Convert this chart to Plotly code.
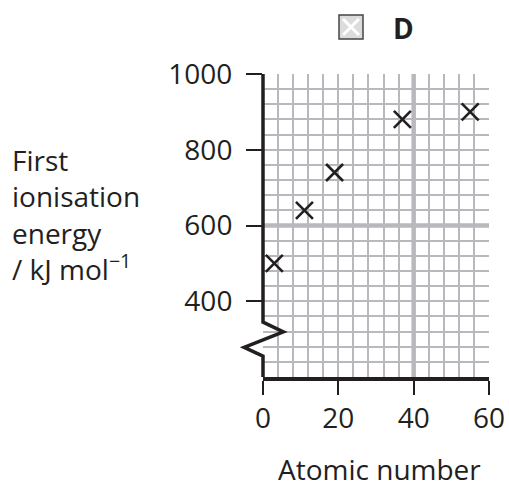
import plotly.graph_objects as go

# ---- data ----
atomic_number = [3, 11, 19, 37, 55]
ionisation_energy = [500, 640, 740, 880, 900]

x_ticks = [0, 20, 40, 60]
y_ticks = [400, 600, 800, 1000]
x_range = [0, 60]
y_range = [200, 1000]
x_minor_step = 4
y_minor_step = 40
x_major_grid = [40]
y_major_grid = [600]

# axis break (zig-zag) on the y axis, in data units
break_x = [0, 0, 5.4, -5.0, 0, 0]
break_y = [1000, 345, 319, 278, 255, 200]

option_label = "D"
y_title = "First<br>ionisation<br>energy<br>/ kJ mol<sup>−1</sup>"
x_title = "Atomic number"

# ---- layout geometry ----
W, H = 509, 487
ML, MR, MT, MB = 263, 20, 74, 110
PW, PH = W - ML - MR, H - MT - MB

FONT = "Open Sans"
TXT = "#231f20"
GRID = "#b9b9bd"


def fx(v):
    return (v - x_range[0]) / (x_range[1] - x_range[0])


def fy(v):
    return (v - y_range[0]) / (y_range[1] - y_range[0])


def px(x):
    return (x - ML) / PW


def py(y):
    return (H - MB - y) / PH


fig = go.Figure()
fig.add_trace(go.Scatter(
    x=atomic_number, y=ionisation_energy, mode="markers",
    marker=dict(symbol="x-thin", size=17, color=TXT,
                line=dict(color=TXT, width=2.6)),
    cliponaxis=False, showlegend=False, hoverinfo="skip"))

shapes = []
# thicker grid lines
for gx in x_major_grid:
    shapes.append(dict(type="line", xref="x", yref="y domain", x0=gx, x1=gx, y0=0, y1=1,
                       line=dict(color=GRID, width=4.5), layer="below"))
for gy in y_major_grid:
    shapes.append(dict(type="line", xref="x domain", yref="y", x0=0, x1=1, y0=gy, y1=gy,
                       line=dict(color=GRID, width=4.5), layer="below"))
# y axis line with break
path = "M " + " L ".join(f"{fx(a)},{fy(b)}" for a, b in zip(break_x, break_y))
shapes.append(dict(type="path", xref="x domain", yref="y domain", path=path,
                   line=dict(color=TXT, width=3.5), layer="above"))
# option box glyph
shapes.append(dict(type="rect", xref="paper", yref="paper",
                   x0=px(339), x1=px(363), y0=py(39), y1=py(15),
                   fillcolor="#dcdcdc", line=dict(color="#444444", width=1.5)))
shapes.append(dict(type="line", xref="paper", yref="paper",
                   x0=px(343), x1=px(359), y0=py(35), y1=py(19),
                   line=dict(color="white", width=3)))
shapes.append(dict(type="line", xref="paper", yref="paper",
                   x0=px(343), x1=px(359), y0=py(19), y1=py(35),
                   line=dict(color="white", width=3)))

annotations = [
    dict(text=f"<b>{option_label}</b>", xref="paper", yref="paper", x=px(403), y=py(28),
         xanchor="center", yanchor="middle", showarrow=False,
         font=dict(family=FONT, size=28, color=TXT)),
    dict(text=y_title, xref="paper", yref="paper", x=px(10), y=py(214),
         xanchor="left", yanchor="middle", align="left", showarrow=False,
         font=dict(family=FONT, size=28, color=TXT)),
    dict(text=x_title, xref="paper", yref="paper", x=px(379), y=py(469),
         xanchor="center", yanchor="middle", showarrow=False,
         font=dict(family=FONT, size=28, color=TXT)),
]

fig.update_layout(
    width=W, height=H, margin=dict(l=ML, r=MR, t=MT, b=MB, autoexpand=False),
    paper_bgcolor="white", plot_bgcolor="white",
    shapes=shapes, annotations=annotations, showlegend=False,
    xaxis=dict(range=x_range, tickvals=x_ticks, showgrid=True, gridcolor=GRID, gridwidth=2,
               minor=dict(dtick=x_minor_step, tick0=0, showgrid=True, gridcolor=GRID, gridwidth=2),
               showline=True, linecolor=TXT, linewidth=3.5,
               ticks="outside", ticklen=14, tickwidth=2, tickcolor=TXT,
               tickfont=dict(family=FONT, size=28, color=TXT),
               zeroline=False, automargin=False, fixedrange=True),
    yaxis=dict(range=y_range, tickvals=y_ticks, showgrid=True, gridcolor=GRID, gridwidth=2,
               minor=dict(dtick=y_minor_step, tick0=200, showgrid=True, gridcolor=GRID, gridwidth=2),
               showline=False,
               ticks="outside", ticklen=16, tickwidth=2, tickcolor=TXT,
               ticklabelstandoff=8,
               tickfont=dict(family=FONT, size=28, color=TXT),
               zeroline=False, automargin=False, fixedrange=True),
)

fig.write_html(
    "out.html",
    config={"displayModeBar": False},
    post_script="document.body.style.margin='0';document.body.style.padding='0';",
)
